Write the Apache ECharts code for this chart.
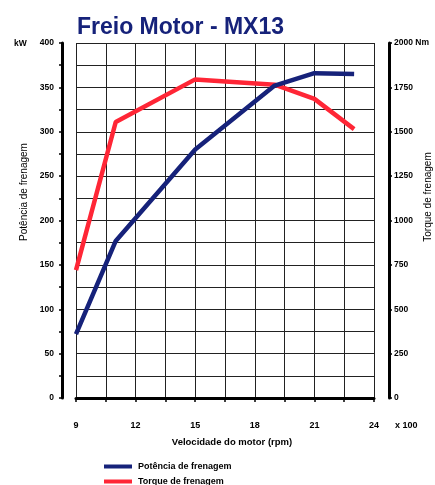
<!DOCTYPE html>
<html>
<head>
<meta charset="utf-8">
<script src="https://cdn.jsdelivr.net/npm/echarts@6/dist/echarts.min.js"></script>
<style>
html,body{margin:0;padding:0;background:#fff;}
#c{width:435px;height:485px;}
</style>
</head>
<body>
<div id="c"></div>
<script>
// Data
const rpm = [9, 11, 15, 19, 21, 23];               // x 100 rpm
const potencia = [72, 177, 280, 352, 366, 365];    // kW
const torque = [720, 1555, 1795, 1765, 1685, 1515]; // Nm
const seriesNames = ['Potência de frenagem', 'Torque de frenagem'];
const titleText = 'Freio Motor - MX13';

const FONT = '"Liberation Sans", Arial, Helvetica, sans-serif';
const BLUE = '#16227a';
const RED = '#ff2636';

const chart = echarts.init(document.getElementById('c'), null, {renderer: 'canvas'});
const pair = (xs, ys) => xs.map((x, i) => [x, ys[i]]);

chart.setOption({
  animation: false,
  backgroundColor: '#fff',
  textStyle: {fontFamily: FONT},
  title: {
    text: titleText,
    left: 72, top: 11,
    textStyle: {fontFamily: FONT, fontSize: 23, fontWeight: 'bold', color: BLUE}
  },
  grid: {left: 76, right: 61, top: 43, bottom: 87, containLabel: false},
  xAxis: {
    type: 'value', min: 9, max: 24, interval: 1.5,
    offset: 14,
    axisLine: {show: true, lineStyle: {color: '#000', width: 3}},
    axisTick: {show: true, length: 4, lineStyle: {color: '#000', width: 1.5}},
    axisLabel: {
      margin: 9, color: '#000', fontSize: 9, fontWeight: 'bold', fontFamily: FONT,
      formatter: v => (Math.abs(v % 3) < 1e-6 ? String(v) : '')
    },
    splitLine: {show: true, lineStyle: {color: '#222', width: 1}}
  },
  yAxis: [
    {
      type: 'value', min: 0, max: 400, interval: 25, position: 'left',
      offset: 14,
      axisLine: {show: true, lineStyle: {color: '#000', width: 3}},
      axisTick: {show: true, length: 3, lineStyle: {color: '#000', width: 1.5}},
      axisLabel: {
        margin: 8, color: '#000', fontSize: 8.5, fontWeight: 'bold', fontFamily: FONT,
        formatter: v => (v % 50 === 0 ? String(v) : '')
      },
      splitLine: {show: true, lineStyle: {color: '#222', width: 1}}
    },
    {
      type: 'value', min: 0, max: 2000, interval: 250, position: 'right',
      offset: 15,
      axisLine: {show: true, lineStyle: {color: '#000', width: 3}},
      axisTick: {show: true, length: 3, lineStyle: {color: '#000', width: 1.5}},
      axisLabel: {
        margin: 5, color: '#000', fontSize: 8.5, fontWeight: 'bold', fontFamily: FONT,
        formatter: v => (v === 2000 ? '2000 Nm' : String(v))
      },
      splitLine: {show: false}
    }
  ],
  legend: {
    orient: 'vertical', left: 99, top: 457, height: 60,
    itemWidth: 28, itemHeight: 4, itemGap: 6,
    icon: 'rect',
    textStyle: {fontFamily: FONT, fontSize: 9, fontWeight: 'bold', color: '#000', padding: [0, 0, 0, 1]},
    data: seriesNames
  },
  series: [
    {
      name: seriesNames[0], type: 'line', yAxisIndex: 0,
      data: pair(rpm, potencia),
      showSymbol: false, symbol: 'none',
      lineStyle: {color: BLUE, width: 4.5},
      itemStyle: {color: BLUE},
      z: 5
    },
    {
      name: seriesNames[1], type: 'line', yAxisIndex: 1,
      data: pair(rpm, torque),
      showSymbol: false, symbol: 'none',
      lineStyle: {color: RED, width: 4.5},
      itemStyle: {color: RED},
      z: 4
    }
  ],
  graphic: [
    {type: 'text', left: 14, top: 39, style: {text: 'kW', font: 'bold 8.5px ' + FONT, fill: '#000'}},
    {type: 'text', left: 395, top: 421, style: {text: 'x 100', font: 'bold 9px ' + FONT, fill: '#000'}},
    {type: 'text', x: 232, y: 442, style: {text: 'Velocidade do motor (rpm)', font: 'bold 9.5px ' + FONT, fill: '#000', align: 'center', verticalAlign: 'middle'}},
    {type: 'text', x: 24, y: 192, rotation: Math.PI / 2, style: {text: 'Potência de frenagem', font: '10px ' + FONT, fill: '#000', align: 'center', verticalAlign: 'middle'}},
    {type: 'text', x: 428, y: 197, rotation: Math.PI / 2, style: {text: 'Torque de frenagem', font: '10px ' + FONT, fill: '#000', align: 'center', verticalAlign: 'middle'}}
  ]
});
</script>
</body>
</html>
